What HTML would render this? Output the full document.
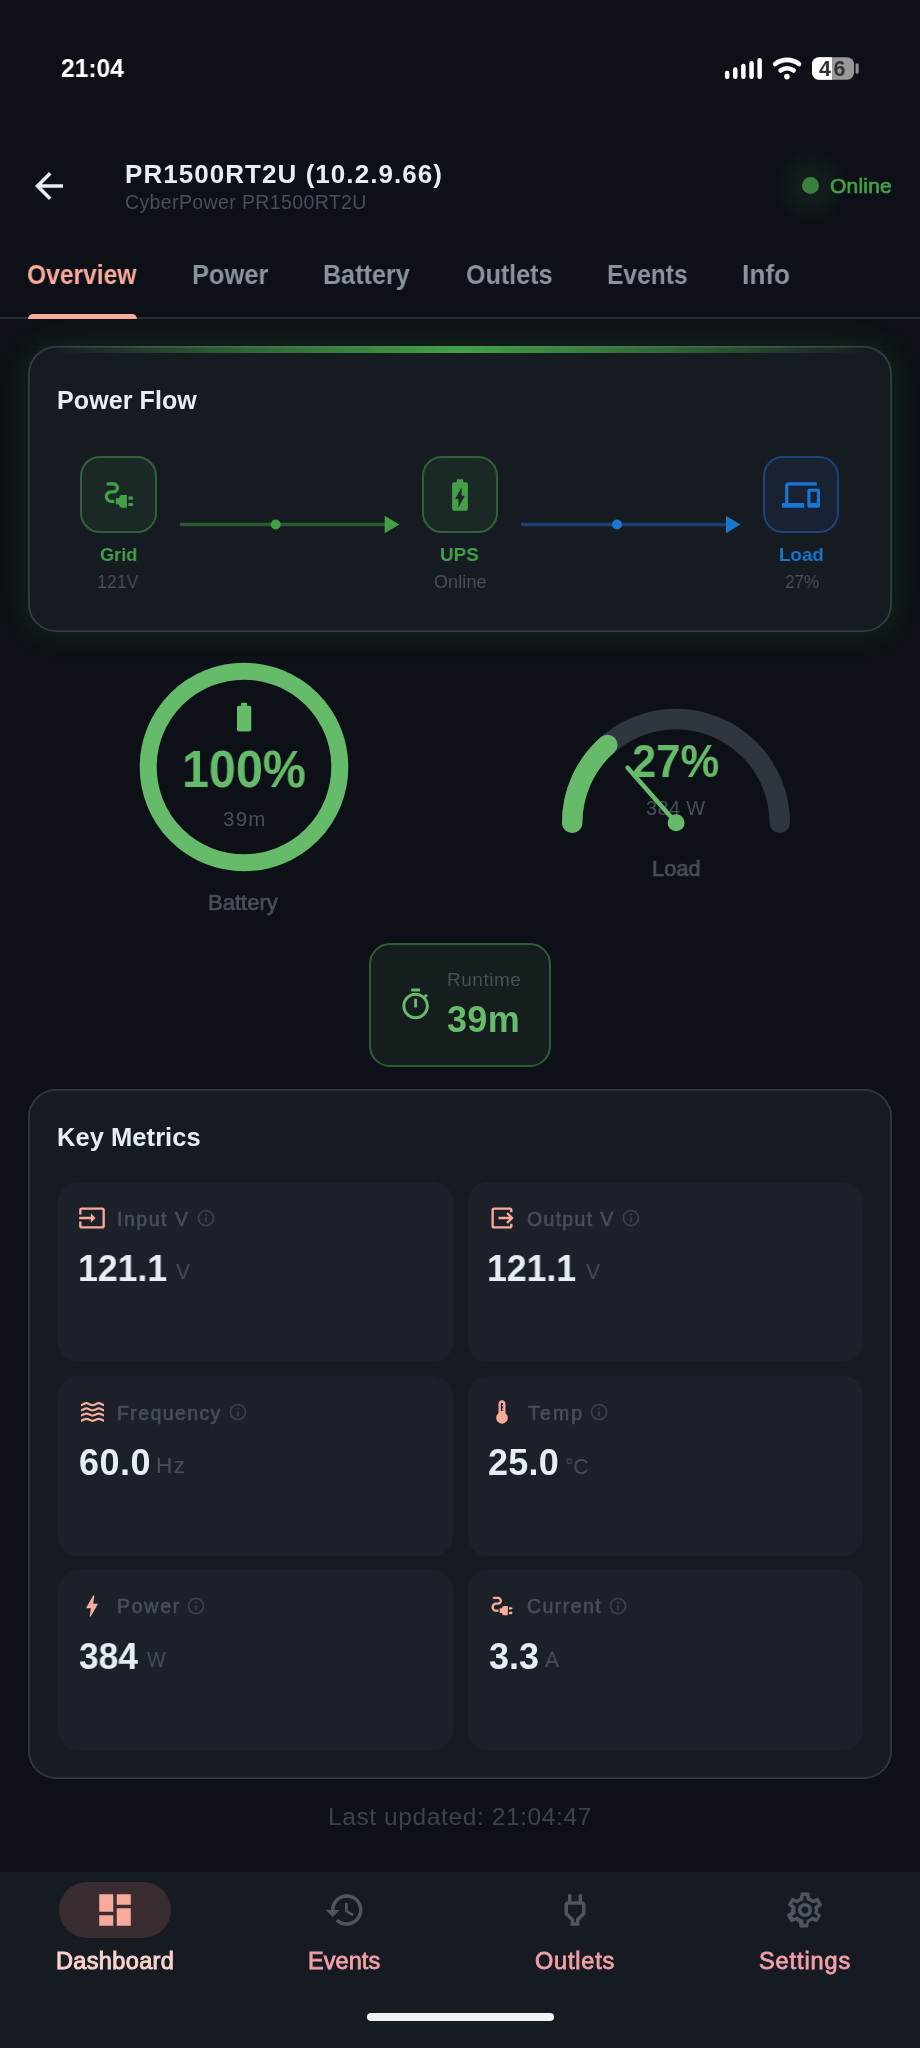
<!DOCTYPE html>
<html lang="en">
<head>
<meta charset="utf-8">
<title>PR1500RT2U</title>
<style>
*{box-sizing:border-box;margin:0;padding:0}
html,body{width:920px;height:2048px;background:#0d1117;overflow:hidden}
body{position:relative;font-family:"Liberation Sans",sans-serif;color:#e6edf3}
.abs{position:absolute}
.t{position:absolute;white-space:pre;line-height:1;z-index:2;will-change:transform}
svg{position:absolute;display:block;overflow:visible}
.card{position:absolute;left:28px;width:864.2px;background:#161b22;border-radius:28px;box-shadow:inset 0 0 0 1.8px #32373f;overflow:hidden}
.node{position:absolute;top:456.2px;width:76.4px;height:76.4px;border-radius:20px;border:2px solid}
.tile{position:absolute;width:395px;height:179.500px;border-radius:20px;background:#1c2129}
</style>
</head>
<body>
<!-- status bar -->
<svg id="sb" style="left:720px;top:50px" width="150" height="40" viewBox="720 50 150 40">
  <rect x="724.9" y="70.7" width="4.5" height="8.2" rx="2.2" fill="#fff"/>
  <rect x="733.0" y="67.3" width="4.5" height="11.6" rx="2.2" fill="#fff"/>
  <rect x="741.1" y="63.8" width="4.5" height="15.1" rx="2.2" fill="#fff"/>
  <rect x="749.3" y="61.0" width="4.5" height="17.9" rx="2.2" fill="#fff"/>
  <rect x="757.4" y="58.0" width="4.5" height="20.9" rx="2.2" fill="#fff"/>
  <g fill="none" stroke="#fff" stroke-linecap="round">
    <path d="M775.16 64.01 A19.40 19.40 0 0 1 799.04 64.01" stroke-width="4.700"/>
    <path d="M780.63 70.40 A11.00 11.00 0 0 1 793.57 70.40" stroke-width="4.700"/>
  </g>
  <circle cx="786.900" cy="76.600" r="2.800" fill="#fff"/>
  <rect x="812" y="57.200" width="42" height="22.600" rx="7" fill="#999"/>
  <path d="M819 57.200 H832 V79.800 H819 A7 7 0 0 1 812 72.800 V64.200 A7 7 0 0 1 819 57.200Z" fill="#fff"/>
  <rect x="855.500" y="63.300" width="3.200" height="10.400" rx="1.600" fill="#8e8e8e"/>
</svg>

<!-- header -->
<svg style="left:28px;top:165px" width="42" height="42" viewBox="0 0 24 24"><path fill="#e6edf3" d="M20 11H7.83l5.59-5.59L12 4l-8 8 8 8 1.410-1.410L7.830 13H20v-2z"/></svg>
<div class="abs" style="left:774.700px;top:149.700px;width:72px;height:72px;border-radius:50%;background:radial-gradient(circle,rgba(63,140,67,.13) 0%,rgba(63,140,67,.08) 35%,rgba(63,140,67,.02) 60%,rgba(63,140,67,0) 72%)"></div>
<div class="abs" style="left:802px;top:177px;width:17.400px;height:17.400px;border-radius:50%;background:#38813c"></div>

<!-- tabs -->
<div class="abs" style="left:0;top:317px;width:920px;height:1.5px;background:#2a2f37"></div>
<div class="abs" style="left:28px;top:313.500px;width:109px;height:5px;border-radius:5px 5px 0 0;background:#f8aa9b"></div>

<!-- power flow card -->
<div class="card" style="top:346.400px;height:285.500px;box-shadow:inset 0 0 0 1.800px #363b43,0 0 30px rgba(76,175,80,.15)">
  <div class="abs" style="left:0;top:0;width:100%;height:6.500px;background:linear-gradient(90deg,rgba(76,175,80,0) 3%,rgba(67,160,71,.55) 25%,#43a047 50%,rgba(67,160,71,.55) 75%,rgba(76,175,80,0) 97%)"></div>
</div>
<div class="node" style="left:80.400px;background:#1a2926;border-color:#2e6435"></div>
<div class="node" style="left:421.800px;background:#1a2926;border-color:#2e6435"></div>
<div class="node" style="left:762.800px;background:#182232;border-color:#1c437a"></div>
<svg style="left:99.500px;top:475.500px" width="38" height="38" viewBox="0 0 24 24"><path fill="#43a047" d="M21 14c0-.55-.45-1-1-1h-2v2h2c.55 0 1-.45 1-1zm-1 3h-2v2h2c.55 0 1-.45 1-1s-.45-1-1-1zm-8-3h-2v4h2c0 1.100.9 2 2 2h3v-8h-3c-1.100 0-2 .9-2 2z"/><path fill="#43a047" d="M5 13c0-1.100.9-2 2-2h1.500c1.930 0 3.500-1.570 3.500-3.500S10.430 4 8.500 4H5c-.55 0-1 .45-1 1s.45 1 1 1h3.500c.83 0 1.500.67 1.500 1.500S9.330 9 8.500 9H7c-2.210 0-4 1.790-4 4s1.790 4 4 4h2v-2H7c-1.100 0-2-.9-2-2z"/></svg>
<svg style="left:441px;top:475.500px" width="38" height="38" viewBox="0 0 24 24"><path fill="#43a047" d="M15.670 4H14V2h-4v2H8.330C7.600 4 7 4.600 7 5.330v15.330C7 21.400 7.600 22 8.330 22h7.330c.74 0 1.340-.6 1.340-1.330V5.330C17 4.600 16.400 4 15.670 4zM11 20v-5.500H9L13 7v5.500h2L11 20z"/></svg>
<svg style="left:782px;top:475.500px" width="38" height="38" viewBox="0 0 24 24"><path fill="#1976d2" d="M4 6h18V4H4c-1.100 0-2 .9-2 2v11H0v3h14v-3H4V6zm19 2h-6c-.55 0-1 .45-1 1v10c0 .55.45 1 1 1h6c.55 0 1-.45 1-1V9c0-.55-.45-1-1-1zm-1 9h-4v-7h4v7z"/></svg>
<!-- flow lines -->
<svg style="left:0;top:500px" width="920" height="50" viewBox="0 500 920 50">
  <rect x="180" y="522.700" width="208" height="3.600" fill="#2a5a30"/>
  <circle cx="275.700" cy="524.500" r="5" fill="#43a047"/>
  <path d="M384.700 515.700 L399.300 524.500 L384.700 533.300Z" fill="#43a047"/>
  <rect x="521" y="522.700" width="208" height="3.600" fill="#1c3f6b"/>
  <circle cx="617" cy="524.500" r="5" fill="#1976d2"/>
  <path d="M726 515.700 L740.300 524.500 L726 533.300Z" fill="#1976d2"/>
</svg>

<!-- battery gauge -->
<svg style="left:130px;top:653px" width="228" height="228" viewBox="130 653 228 228">
  <circle cx="244" cy="767" r="95.800" fill="none" stroke="#66bb6a" stroke-width="17"/>
</svg>
<svg style="left:226.750px;top:700.300px" width="34.300" height="34.300" viewBox="0 0 24 24"><path fill="#66bb6a" d="M15.670 4H14V2h-4v2H8.330C7.600 4 7 4.600 7 5.330v15.330C7 21.400 7.600 22 8.330 22h7.330c.74 0 1.340-.6 1.340-1.330V5.330C17 4.600 16.400 4 15.670 4z"/></svg>

<!-- load gauge -->
<svg style="left:550px;top:695px" width="252" height="150" viewBox="550 695 252 150">
  <path d="M572.200 822.800 A103.800 103.800 0 0 1 779.800 822.800" fill="none" stroke="#30363d" stroke-width="20.500" stroke-linecap="round"/>
  <path d="M572.200 822.800 A103.800 103.800 0 0 1 607.400 744.900" fill="none" stroke="#66bb6a" stroke-width="20.500" stroke-linecap="round"/>
</svg>
<svg style="left:550px;top:695px;z-index:3" width="252" height="150" viewBox="550 695 252 150">
  <path d="M676.100 822.700 L627.600 767.700" stroke="#66bb6a" stroke-width="4.500" stroke-linecap="round"/>
  <circle cx="676.100" cy="822.700" r="8.500" fill="#66bb6a"/>
</svg>

<!-- runtime -->
<div class="abs" style="left:369px;top:943px;width:182px;height:124px;border-radius:21px;background:#151d1f;border:2px solid #2f5e35"></div>
<svg style="left:398.300px;top:987.400px" width="35.200" height="35.200" viewBox="0 0 24 24"><path fill="#66bb6a" d="M15 1H9v2h6V1zm-4 13h2V8h-2v6zm8.030-6.610l1.420-1.420c-.43-.51-.9-.99-1.410-1.410l-1.420 1.420C16.070 4.740 14.120 4 12 4c-4.970 0-9 4.030-9 9s4.020 9 9 9 9-4.030 9-9c0-2.120-.74-4.070-1.970-5.610zM12 20c-3.870 0-7-3.130-7-7s3.130-7 7-7 7 3.130 7 7-3.130 7-7 7z"/></svg>

<!-- key metrics -->
<div class="card" style="top:1088.500px;height:690.500px"></div>
<div class="tile" style="left:57.500px;top:1182.400px"></div>
<div class="tile" style="left:467.5px;top:1182.400px"></div>
<div class="tile" style="left:57.500px;top:1376.200px"></div>
<div class="tile" style="left:467.5px;top:1376.200px"></div>
<div class="tile" style="left:57.500px;top:1570px"></div>
<div class="tile" style="left:467.5px;top:1570px"></div>
<svg style="left:78.40px;top:1204.25px" width="28" height="28" viewBox="0 0 24 24"><path fill="#f8aa9b" d="M21 3.010H3c-1.100 0-2 .9-2 2V9h2V4.990h18v14.030H3V15H1v4.010c0 1.100.9 1.980 2 1.980h18c1.100 0 2-.88 2-1.980v-14c0-1.110-.9-2-2-2zM11 16l4-4-4-4v3H1v2h10v3z"/></svg>
<svg style="left:195.70px;top:1208.30px" width="20" height="20" viewBox="0 0 24 24"><path fill="#3c424b" d="M11 7h2v2h-2zm0 4h2v6h-2zm1-9C6.480 2 2 6.480 2 12s4.480 10 10 10 10-4.480 10-10S17.520 2 12 2zm0 18c-4.410 0-8-3.590-8-8s3.590-8 8-8 8 3.590 8 8-3.590 8-8 8z"/></svg>
<svg style="left:487.90px;top:1204.25px" width="28" height="28" viewBox="0 0 24 24"><path fill="#f8aa9b" d="M17 17l5-5-5-5-1.410 1.410L18.170 11H9v2h9.170l-2.580 2.590L17 17z M19 19H5V5h14v2h2V5c0-1.100-.89-2-2-2H5c-1.100 0-2 .9-2 2v14c0 1.100.9 2 2 2h14c1.110 0 2-.9 2-2v-2h-2v2z"/></svg>
<svg style="left:621.10px;top:1208.30px" width="20" height="20" viewBox="0 0 24 24"><path fill="#3c424b" d="M11 7h2v2h-2zm0 4h2v6h-2zm1-9C6.480 2 2 6.480 2 12s4.480 10 10 10 10-4.480 10-10S17.520 2 12 2zm0 18c-4.410 0-8-3.590-8-8s3.590-8 8-8 8 3.590 8 8-3.590 8-8 8z"/></svg>
<svg style="left:81px;top:1396px;overflow:hidden" width="23.200" height="30" viewBox="81 1396 23.200 30"><path d="M78.300 1404.50 C79.300 1405.20 80.300 1405.20 80.300 1405.20 C82.400 1405.20 84.300 1403.20 86.450 1403.20 S90.400 1405.20 92.600 1405.20 S96.600 1403.20 98.750 1403.20 S102.700 1405.20 104.900 1405.20 S106 1405.20 107 1404.50 M78.300 1409.70 C79.300 1410.40 80.300 1410.40 80.300 1410.40 C82.400 1410.40 84.300 1408.40 86.450 1408.40 S90.400 1410.40 92.600 1410.40 S96.600 1408.40 98.750 1408.40 S102.700 1410.40 104.900 1410.40 S106 1410.40 107 1409.70 M78.300 1414.90 C79.300 1415.60 80.300 1415.60 80.300 1415.60 C82.400 1415.60 84.300 1413.60 86.450 1413.60 S90.400 1415.60 92.600 1415.60 S96.600 1413.60 98.750 1413.60 S102.700 1415.60 104.900 1415.60 S106 1415.60 107 1414.90 M78.300 1420.15 C79.300 1420.85 80.300 1420.85 80.300 1420.85 C82.400 1420.85 84.300 1418.85 86.450 1418.85 S90.400 1420.85 92.600 1420.85 S96.600 1418.85 98.750 1418.85 S102.700 1420.85 104.900 1420.85 S106 1420.85 107 1420.15" fill="none" stroke="#f8aa9b" stroke-width="2.250"/></svg>
<svg style="left:227.80px;top:1401.80px" width="20" height="20" viewBox="0 0 24 24"><path fill="#3c424b" d="M11 7h2v2h-2zm0 4h2v6h-2zm1-9C6.480 2 2 6.480 2 12s4.480 10 10 10 10-4.480 10-10S17.520 2 12 2zm0 18c-4.410 0-8-3.590-8-8s3.590-8 8-8 8 3.590 8 8-3.590 8-8 8z"/></svg>
<svg style="left:487.90px;top:1397.75px" width="28" height="28" viewBox="0 0 24 24"><path fill="#f8aa9b" d="M15 13V5c0-1.660-1.340-3-3-3S9 3.340 9 5v8c-1.210.910-2 2.370-2 4 0 2.760 2.240 5 5 5s5-2.240 5-5c0-1.630-.79-3.090-2-4zm-4-2V5c0-.55.450-1 1-1s1 .45 1 1v1h-1v1h1v2h-1v1h1v1h-2z"/></svg>
<svg style="left:588.50px;top:1401.80px" width="20" height="20" viewBox="0 0 24 24"><path fill="#3c424b" d="M11 7h2v2h-2zm0 4h2v6h-2zm1-9C6.480 2 2 6.480 2 12s4.480 10 10 10 10-4.480 10-10S17.520 2 12 2zm0 18c-4.410 0-8-3.590-8-8s3.590-8 8-8 8 3.590 8 8-3.590 8-8 8z"/></svg>
<svg style="left:78.40px;top:1591.55px" width="28" height="28" viewBox="0 0 24 24"><path fill="#f8aa9b" d="M11 21h-1l1-7H7.500c-.58 0-.57-.32-.38-.66.190-.34.050-.08.070-.12C8.480 10.940 10.420 7.540 13 3h1l-1 7h3.500c.49 0 .56.330.47.510l-.07.150C12.960 17.550 11 21 11 21z"/></svg>
<svg style="left:186.30px;top:1595.60px" width="20" height="20" viewBox="0 0 24 24"><path fill="#3c424b" d="M11 7h2v2h-2zm0 4h2v6h-2zm1-9C6.480 2 2 6.480 2 12s4.480 10 10 10 10-4.480 10-10S17.520 2 12 2zm0 18c-4.410 0-8-3.590-8-8s3.590-8 8-8 8 3.590 8 8-3.590 8-8 8z"/></svg>
<svg style="left:487.90px;top:1591.55px" width="28" height="28" viewBox="0 0 24 24"><path fill="#f8aa9b" d="M21 14c0-.55-.45-1-1-1h-2v2h2c.55 0 1-.45 1-1zm-1 3h-2v2h2c.55 0 1-.45 1-1s-.45-1-1-1zm-8-3h-2v4h2c0 1.100.9 2 2 2h3v-8h-3c-1.100 0-2 .9-2 2z M5 13c0-1.100.9-2 2-2h1.500c1.930 0 3.500-1.570 3.500-3.500S10.430 4 8.500 4H5c-.55 0-1 .45-1 1s.45 1 1 1h3.500c.83 0 1.500.67 1.500 1.500S9.330 9 8.500 9H7c-2.210 0-4 1.790-4 4s1.790 4 4 4h2v-2H7c-1.100 0-2-.9-2-2z"/></svg>
<svg style="left:607.80px;top:1595.60px" width="20" height="20" viewBox="0 0 24 24"><path fill="#3c424b" d="M11 7h2v2h-2zm0 4h2v6h-2zm1-9C6.480 2 2 6.480 2 12s4.480 10 10 10 10-4.480 10-10S17.520 2 12 2zm0 18c-4.410 0-8-3.590-8-8s3.590-8 8-8 8 3.590 8 8-3.590 8-8 8z"/></svg>

<!-- bottom nav -->
<div class="abs" style="left:0;top:1871.500px;width:920px;height:177px;background:#161b22"></div>
<div class="abs" style="left:59px;top:1882px;width:112px;height:56px;border-radius:28px;background:#3a2d32"></div>
<svg style="left:94px;top:1889px" width="42" height="42" viewBox="0 0 24 24"><path fill="#f8aa9b" d="M3 13h8V3H3v10zm0 8h8v-6H3v6zm10 0h8V11h-8v10zm0-18v6h8V3h-8z"/></svg>
<svg style="left:324px;top:1889px" width="42" height="42" viewBox="0 0 24 24"><path fill="#4f555e" d="M13 3c-4.970 0-9 4.030-9 9H1l3.890 3.890.07.140L9 12H6c0-3.870 3.130-7 7-7s7 3.130 7 7-3.130 7-7 7c-1.930 0-3.680-.79-4.940-2.060l-1.420 1.420C8.270 19.990 10.510 21 13 21c4.970 0 9-4.030 9-9s-4.030-9-9-9zm-1 5v5l4.280 2.540.72-1.210-3.500-2.080V8H12z"/></svg>
<svg style="left:554px;top:1889px" width="42" height="42" viewBox="0 0 24 24"><path fill="#4f555e" d="M16 9v4.660l-3.500 3.510V19h-1v-1.830L8 13.650V9h8m0-6h-2v4h-4V3H8v4h-.01C6.900 6.990 6 7.890 6 8.980v5.520L9.500 18v3h5v-3l3.500-3.510V9c0-1.100-.9-2-2-2V3z"/></svg>
<svg style="left:784px;top:1889px" width="42" height="42" viewBox="0 0 24 24"><path fill="#4f555e" d="M19.430 12.980c.04-.32.070-.64.070-.98 0-.34-.03-.66-.07-.98l2.110-1.650c.19-.15.240-.42.120-.64l-2-3.460c-.09-.16-.26-.25-.44-.25-.06 0-.12.010-.17.030l-2.490 1c-.52-.4-1.080-.73-1.690-.98l-.38-2.650C14.460 2.180 14.250 2 14 2h-4c-.25 0-.46.180-.49.420l-.38 2.650c-.61.250-1.170.59-1.690.98l-2.490-1c-.06-.02-.12-.03-.18-.03-.17 0-.34.090-.43.250l-2 3.460c-.13.220-.07.490.12.640l2.110 1.650c-.4.320-.7.650-.7.980 0 .33.030.66.070.98l-2.110 1.650c-.19.150-.24.420-.12.640l2 3.460c.9.160.26.250.44.250.06 0 .12-.1.170-.03l2.490-1c.52.400 1.080.73 1.690.98l.38 2.650c.3.240.24.420.49.420h4c.25 0 .46-.18.490-.42l.38-2.650c.61-.25 1.170-.59 1.690-.98l2.490 1c.6.020.12.030.18.030.17 0 .34-.9.430-.25l2-3.460c.12-.22.070-.49-.12-.64l-2.110-1.650zm-1.980-1.710c.4.310.5.520.5.730 0 .21-.2.430-.5.730l-.14 1.130.89.700 1.080.84-.7 1.210-1.270-.51-1.040-.42-.9.680c-.43.320-.84.560-1.250.73l-1.060.43-.16 1.130-.2 1.350h-1.400l-.19-1.350-.16-1.130-1.060-.43c-.43-.18-.83-.41-1.230-.71l-.91-.7-1.060.43-1.270.51-.7-1.210 1.080-.84.890-.7-.14-1.130c-.03-.31-.05-.54-.05-.74s.02-.43.050-.73l.14-1.130-.89-.7-1.080-.84.700-1.210 1.270.51 1.040.42.900-.68c.43-.32.840-.56 1.250-.73l1.060-.43.160-1.130.2-1.350h1.390l.19 1.350.16 1.130 1.060.43c.43.180.83.410 1.230.71l.91.700 1.060-.43 1.270-.51.700 1.210-1.070.85-.89.700.14 1.130zM12 8c-2.210 0-4 1.790-4 4s1.790 4 4 4 4-1.790 4-4-1.790-4-4-4zm0 6c-1.100 0-2-.9-2-2s.9-2 2-2 2 .9 2 2-.9 2-2 2z"/></svg>
<div class="abs" style="left:366.500px;top:2012.500px;width:187px;height:8px;border-radius:4px;background:#f2f2f2"></div>

<div class="t" style="left:61.34px;top:55.39px;font-size:26px;font-weight:700;transform:scaleX(0.946);transform-origin:0 0;color:#ffffff">21:04</div>
<div class="t" style="left:819.38px;top:59.10px;font-size:21.5px;font-weight:700;letter-spacing:2.42px;color:#333333">46</div>
<div class="t" style="left:125.40px;top:160.79px;font-size:26px;font-weight:700;letter-spacing:1.05px;color:#e6edf3">PR1500RT2U (10.2.9.66)</div>
<div class="t" style="left:125.40px;top:193.49px;font-size:19.5px;font-weight:400;letter-spacing:0.38px;color:#484f58">CyberPower PR1500RT2U</div>
<div class="t" style="left:830.40px;top:174.99px;font-size:21px;font-weight:400;-webkit-text-stroke:0.032em #43a047;letter-spacing:0.22px;color:#43a047">Online</div>
<div class="t" style="left:27.15px;top:262.39px;font-size:27px;font-weight:700;transform:scaleX(0.9118);transform-origin:0 0;color:#f8aa9b">Overview</div>
<div class="t" style="left:192.14px;top:260.72px;font-size:27.5px;font-weight:700;transform:scaleX(0.925);transform-origin:0 0;color:#8b949e">Power</div>
<div class="t" style="left:323.33px;top:260.72px;font-size:27.5px;font-weight:700;transform:scaleX(0.9148);transform-origin:0 0;color:#8b949e">Battery</div>
<div class="t" style="left:466.09px;top:260.72px;font-size:27.5px;font-weight:700;transform:scaleX(0.9124);transform-origin:0 0;color:#8b949e">Outlets</div>
<div class="t" style="left:607.28px;top:260.72px;font-size:27.5px;font-weight:700;transform:scaleX(0.8932);transform-origin:0 0;color:#8b949e">Events</div>
<div class="t" style="left:742.30px;top:260.72px;font-size:27.5px;font-weight:700;transform:scaleX(0.9538);transform-origin:0 0;color:#8b949e">Info</div>
<div class="t" style="left:56.89px;top:387.59px;font-size:25px;font-weight:700;letter-spacing:0.1px;color:#e6edf3">Power Flow</div>
<div class="t" style="left:99.84px;top:545.02px;font-size:19px;font-weight:700;transform:scaleX(0.9534);transform-origin:0 0;color:#43a047">Grid</div>
<div class="t" style="left:97.19px;top:572.65px;font-size:18px;font-weight:400;transform:scaleX(0.9858);transform-origin:0 0;color:#484f58">121V</div>
<div class="t" style="left:440.03px;top:545.02px;font-size:19px;font-weight:700;transform:scaleX(0.9895);transform-origin:0 0;color:#43a047">UPS</div>
<div class="t" style="left:433.76px;top:572.76px;font-size:18px;font-weight:400;letter-spacing:0.11px;color:#484f58">Online</div>
<div class="t" style="left:779.41px;top:545.02px;font-size:19px;font-weight:700;transform:scaleX(0.9861);transform-origin:0 0;color:#1976d2">Load</div>
<div class="t" style="left:784.56px;top:572.76px;font-size:18px;font-weight:400;transform:scaleX(0.9478);transform-origin:0 0;color:#484f58">27%</div>
<div class="t" style="left:182.15px;top:743.93px;font-size:51px;font-weight:700;transform:scaleX(0.9503);transform-origin:0 0;color:#66bb6a">100%</div>
<div class="t" style="left:222.67px;top:808.55px;font-size:20.5px;font-weight:400;letter-spacing:1.23px;color:#484f58">39m</div>
<div class="t" style="left:208.26px;top:892.42px;font-size:22px;font-weight:400;-webkit-text-stroke:0.032em #484f58;letter-spacing:0.02px;color:#484f58">Battery</div>
<div class="t" style="left:645.54px;top:798.37px;font-size:20px;font-weight:400;letter-spacing:0.33px;color:#484f58">384 W</div>
<div class="t" style="left:632.46px;top:737.74px;font-size:46.5px;font-weight:700;transform:scaleX(0.9372);transform-origin:0 0;color:#66bb6a">27%</div>
<div class="t" style="left:652.21px;top:857.92px;font-size:22px;font-weight:400;-webkit-text-stroke:0.032em #484f58;transform:scaleX(0.9913);transform-origin:0 0;color:#484f58">Load</div>
<div class="t" style="left:447.00px;top:970.22px;font-size:19px;font-weight:400;letter-spacing:0.52px;color:#484f58">Runtime</div>
<div class="t" style="left:447.00px;top:1002.23px;font-size:36px;font-weight:700;letter-spacing:0.33px;color:#66bb6a">39m</div>
<div class="t" style="left:56.86px;top:1125.16px;font-size:25.5px;font-weight:700;letter-spacing:0.05px;color:#e6edf3">Key Metrics</div>
<div class="t" style="left:328.20px;top:1805.06px;font-size:24.5px;font-weight:400;letter-spacing:0.6px;color:#3d434c">Last updated: 21:04:47</div>
<div class="t" style="left:55.85px;top:1949.87px;font-size:23.5px;font-weight:400;-webkit-text-stroke:0.04em #fbd3cd;letter-spacing:0.36px;color:#fbd3cd">Dashboard</div>
<div class="t" style="left:308.28px;top:1949.87px;font-size:23.5px;font-weight:400;-webkit-text-stroke:0.032em #f4a0a8;letter-spacing:0.06px;color:#f4a0a8">Events</div>
<div class="t" style="left:535.24px;top:1949.84px;font-size:23.5px;font-weight:400;-webkit-text-stroke:0.032em #f4a0a8;letter-spacing:0.81px;color:#f4a0a8">Outlets</div>
<div class="t" style="left:759.00px;top:1949.83px;font-size:23.5px;font-weight:400;-webkit-text-stroke:0.032em #f4a0a8;letter-spacing:0.92px;color:#f4a0a8">Settings</div>
<div class="t" style="left:117.30px;top:1209.90px;font-size:19.5px;font-weight:400;-webkit-text-stroke:0.032em #484f58;letter-spacing:1.54px;color:#484f58">Input V</div>
<div class="t" style="left:78.32px;top:1251.33px;font-size:36px;font-weight:700;transform:scaleX(0.9904);transform-origin:0 0;color:#e6edf3">121.1</div>
<div class="t" style="left:176.46px;top:1260.75px;font-size:22.5px;font-weight:400;transform:scaleX(0.9353);transform-origin:0 0;color:#484f58">V</div>
<div class="t" style="left:527.02px;top:1209.86px;font-size:19.5px;font-weight:400;-webkit-text-stroke:0.032em #484f58;letter-spacing:1.31px;color:#484f58">Output V</div>
<div class="t" style="left:487.10px;top:1251.33px;font-size:36px;font-weight:700;transform:scaleX(0.9904);transform-origin:0 0;color:#e6edf3">121.1</div>
<div class="t" style="left:586.20px;top:1260.75px;font-size:22.5px;font-weight:400;transform:scaleX(0.9353);transform-origin:0 0;color:#484f58">V</div>
<div class="t" style="left:117.30px;top:1404.16px;font-size:19.5px;font-weight:400;-webkit-text-stroke:0.032em #484f58;letter-spacing:1.4px;color:#484f58">Frequency</div>
<div class="t" style="left:79.30px;top:1444.78px;font-size:36px;font-weight:700;letter-spacing:0.45px;color:#e6edf3">60.0</div>
<div class="t" style="left:155.84px;top:1454.50px;font-size:22.5px;font-weight:400;letter-spacing:1.41px;color:#484f58">Hz</div>
<div class="t" style="left:527.56px;top:1404.16px;font-size:19.5px;font-weight:400;-webkit-text-stroke:0.032em #484f58;letter-spacing:2.17px;color:#484f58">Temp</div>
<div class="t" style="left:488.16px;top:1444.78px;font-size:36px;font-weight:700;letter-spacing:0.21px;color:#e6edf3">25.0</div>
<div class="t" style="left:565.06px;top:1456.48px;font-size:22.5px;font-weight:400;transform:scaleX(0.9297);transform-origin:0 0;color:#484f58">°C</div>
<div class="t" style="left:117.30px;top:1597.43px;font-size:19.5px;font-weight:400;-webkit-text-stroke:0.032em #484f58;letter-spacing:1.76px;color:#484f58">Power</div>
<div class="t" style="left:78.90px;top:1638.53px;font-size:36px;font-weight:700;transform:scaleX(0.9813);transform-origin:0 0;color:#e6edf3">384</div>
<div class="t" style="left:146.70px;top:1648.92px;font-size:22.5px;font-weight:400;transform:scaleX(0.8755);transform-origin:0 0;color:#484f58">W</div>
<div class="t" style="left:526.94px;top:1597.31px;font-size:19.5px;font-weight:400;-webkit-text-stroke:0.032em #484f58;letter-spacing:1.43px;color:#484f58">Current</div>
<div class="t" style="left:488.60px;top:1638.53px;font-size:36px;font-weight:700;letter-spacing:0.01px;color:#e6edf3">3.3</div>
<div class="t" style="left:545.40px;top:1649.05px;font-size:22.5px;font-weight:400;transform:scaleX(0.9307);transform-origin:0 0;color:#484f58">A</div>
</body>
</html>
